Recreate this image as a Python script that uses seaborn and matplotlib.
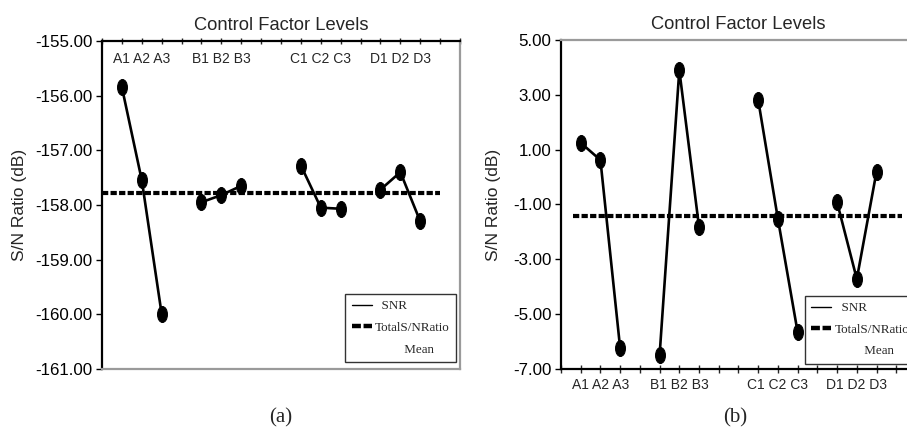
import numpy as np
import pandas as pd
import seaborn as sns
import matplotlib
matplotlib.use("Agg")
from matplotlib import pyplot as plt
from matplotlib.path import Path
from matplotlib.lines import Line2D

# factor groups and their level positions on the x axis
factors = ["A", "B", "C", "D"]
level_pos = [[1, 2, 3], [5, 6, 7], [10, 11, 12], [14, 15, 16]]
group_labels = ["A1 A2 A3", "B1 B2 B3", "C1 C2 C3", "D1 D2 D3"]

# S/N ratio values
snr_a = [[-155.85, -157.55, -160.00],
         [-157.95, -157.82, -157.65],
         [-157.28, -158.05, -158.07],
         [-157.72, -157.40, -158.30]]
mean_a = -157.78

snr_b = [[1.25, 0.62, -6.24],
         [-6.50, 3.90, -1.82],
         [2.81, -1.53, -5.66],
         [-0.92, -3.72, 0.20]]
mean_b = -1.42

y_ticks_a = [-161, -160, -159, -158, -157, -156, -155]
y_ticks_b = [-7, -5, -3, -1, 1, 3, 5]


def build_frame(values):
    rows = []
    for f, pos, vals in zip(factors, level_pos, values):
        for p, v in zip(pos, vals):
            rows.append({"factor": f, "pos": p, "snr": v})
    return pd.DataFrame(rows)


sns.set_style("white")
plt.rcParams["font.family"] = ["Liberation Sans", "DejaVu Sans"]

# tall ellipse marker like the original
ellipse = Path.unit_circle().transformed(
    matplotlib.transforms.Affine2D().scale(0.62, 1.0))

fig = plt.figure(figsize=(9.07, 4.30), dpi=100)
ax1 = fig.add_axes([0.1125, 0.142, 0.3947, 0.7628])
ax2 = fig.add_axes([0.6185, 0.142, 0.3914, 0.765])

gray = "#9a9a9a"
dash = (0, (1.5, 0.55))


def draw_panel(ax, values, mean, yticks, top_axis, mean_span, leg_anchor):
    df = build_frame(values)
    sns.lineplot(data=df, x="pos", y="snr", units="factor", estimator=None,
                 color="black", lw=1.9, marker=ellipse, markersize=11.5,
                 markeredgecolor="black", ax=ax, legend=False)
    ax.hlines(mean, mean_span[0], mean_span[1], colors="black", lw=3.0,
              linestyles=dash)
    ax.set_xlim(0, 18)
    ax.set_ylim(yticks[0], yticks[-1])
    ax.set_yticks(yticks)
    ax.set_yticklabels([f"{t:.2f}" for t in yticks], fontsize=12.2)
    ax.set_xticks(range(0, 19))
    ax.set_xticklabels([])
    ax.set_xlabel("")
    ax.set_ylabel("S/N Ratio (dB)", fontsize=12.5)
    ax.tick_params(axis="y", direction="out", length=4, width=1, left=True,
                   colors="black", pad=3)
    ax.set_title("Control Factor Levels", fontsize=13.2, pad=8)
    ax.spines["left"].set_color("black")
    ax.spines["left"].set_linewidth(1.6)
    if top_axis:
        ax.xaxis.tick_top()
        ax.tick_params(axis="x", direction="inout", length=5, width=1,
                       top=True, bottom=False)
        ax.spines["top"].set_color("black")
        ax.spines["top"].set_linewidth(1.6)
        ax.spines["bottom"].set_color(gray)
        ax.spines["bottom"].set_linewidth(1.6)
        ax.spines["right"].set_color(gray)
        ax.spines["right"].set_linewidth(1.6)
        label_y = 0.945
    else:
        ax.tick_params(axis="x", direction="inout", length=6, width=1,
                       bottom=True, top=False)
        ax.spines["bottom"].set_color("black")
        ax.spines["bottom"].set_linewidth(1.6)
        ax.spines["top"].set_color(gray)
        ax.spines["top"].set_linewidth(1.6)
        ax.spines["right"].set_color(gray)
        label_y = -0.05
    trans = matplotlib.transforms.blended_transform_factory(ax.transData, ax.transAxes)
    for pos, lab in zip(level_pos, group_labels):
        ax.text(np.mean(pos), label_y, lab, transform=trans, ha="center",
                va="center", fontsize=10)

    handles = [Line2D([], [], color="black", lw=1.0),
               Line2D([], [], color="black", lw=3.2, ls=(0, (2.0, 0.6))),
               Line2D([], [], color="none", lw=0)]
    labels = ["  SNR", "TotalS/NRatio", "         Mean"]
    leg = ax.legend(handles, labels, loc="lower right",
                    bbox_to_anchor=leg_anchor, frameon=True, fancybox=False,
                    edgecolor="black", handlelength=1.55, handletextpad=0.25,
                    borderpad=0.5, labelspacing=0.72, borderaxespad=0,
                    prop={"family": "Liberation Serif", "size": 9.4})
    leg.get_frame().set_linewidth(1.0)


draw_panel(ax1, snr_a, mean_a, y_ticks_a, True, (0, 17), (0.99, 0.021))
draw_panel(ax2, snr_b, mean_b, y_ticks_b, False, (0.6, 17.3), (1.0, 0.015))

ax1.yaxis.set_label_coords(-0.21, 0.5)
ax2.yaxis.set_label_coords(-0.17, 0.5)

fig.text(281 / 907, 1 - 418 / 430, "(a)", ha="center", va="center",
         fontsize=15, family="Liberation Serif")
fig.text(735 / 907, 1 - 418 / 430, "(b)", ha="center", va="center",
         fontsize=15, family="Liberation Serif")

fig.savefig("out.png", dpi=100)
